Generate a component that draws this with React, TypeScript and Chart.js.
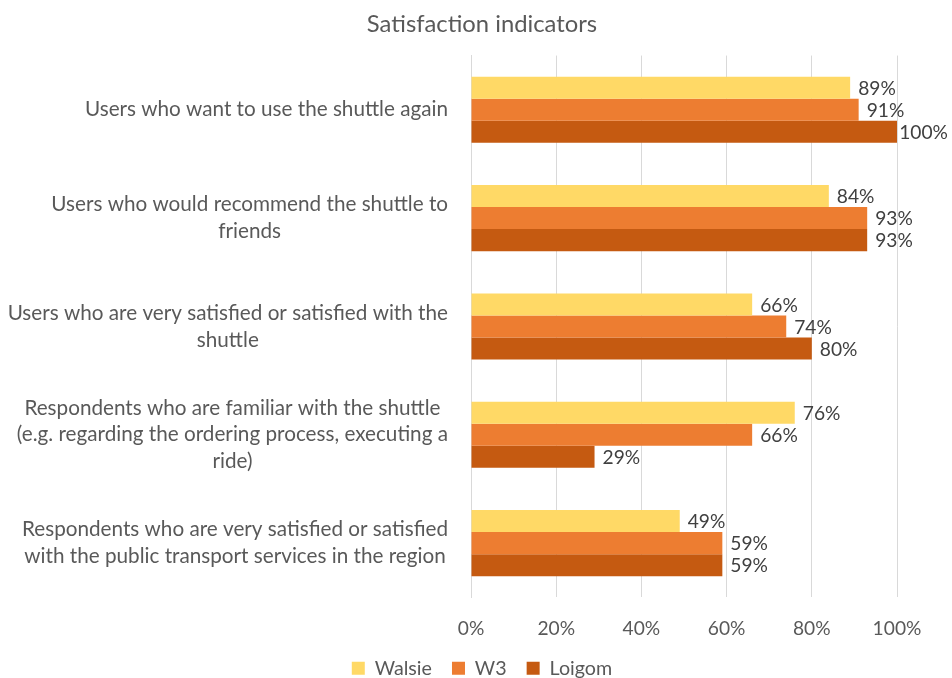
import React, { useEffect, useRef } from "react";
import { Chart, registerables } from "chart.js";

Chart.register(...registerables);

const categories: string[][] = [
  ["Users who want to use the shuttle again"],
  ["Users who would recommend the shuttle to", "friends"],
  ["Users who are very satisfied or satisfied with the", "shuttle"],
  ["Respondents who are familiar with the shuttle", "(e.g. regarding the ordering process, executing a", "ride)"],
  ["Respondents who are very satisfied or satisfied", "with the public transport services in the region"],
];
const walsie = [89, 84, 66, 76, 49];
const w3 = [91, 93, 74, 66, 59];
const loigom = [100, 93, 80, 29, 59];
const xTicks = [0, 20, 40, 60, 80, 100];

const FONT = "Lato";
const TEXT = "#595959";

// Center the lines of each category label on each other, block right-aligned (Excel style)
const labelBlocks = {
  id: "labelBlocks",
  beforeDraw(chart: any) {
    const s = chart.scales.y;
    const ctx = chart.ctx;
    const right = s.right - s.options.ticks.padding;
    s.getLabelItems().forEach((it: any) => {
      ctx.save();
      ctx.font = it.font.string;
      const lines = Array.isArray(it.label) ? it.label : [it.label];
      const w = Math.max(...lines.map((l: string) => ctx.measureText(l).width));
      ctx.restore();
      it.options.textAlign = "center";
      it.options.translation = [right - w / 2, it.options.translation[1]];
    });
  },
};

const dataLabels = {
  id: "dataLabels",
  afterDatasetsDraw(chart: any) {
    const ctx = chart.ctx;
    ctx.save();
    ctx.font = `19.2px ${FONT}`;
    ctx.fillStyle = "#404040";
    ctx.textAlign = "left";
    ctx.textBaseline = "middle";
    chart.data.datasets.forEach((ds: any, i: number) => {
      const meta = chart.getDatasetMeta(i);
      meta.data.forEach((bar: any, j: number) => {
        const t = ds.data[j] + "%";
        const w = ctx.measureText(t).width;
        const x = Math.min(bar.x + 8, chart.width - w - 4);
        ctx.fillText(t, x, bar.y + 1);
      });
    });
    ctx.restore();
  },
};

export default function App() {
  const ref = useRef<HTMLCanvasElement>(null);
  useEffect(() => {
    const chart = new Chart(ref.current!, {
      type: "bar",
      data: {
        labels: categories,
        datasets: [
          { label: "Walsie", data: walsie, backgroundColor: "#FFD966" },
          { label: "W3", data: w3, backgroundColor: "#ED7D31" },
          { label: "Loigom", data: loigom, backgroundColor: "#C55A11" },
        ],
      },
      options: {
        indexAxis: "y",
        animation: false,
        responsive: false,
        maintainAspectRatio: false,
        layout: { padding: { left: 67, right: 55, top: 8, bottom: -10 } },
        datasets: { bar: { categoryPercentage: 0.61, barPercentage: 1 } },
        scales: {
          x: {
            min: 0,
            max: 100,
            afterBuildTicks: (s: any) => {
              s.ticks = xTicks.map((v) => ({ value: v }));
            },
            afterFit: (s: any) => {
              s.height = 41;
            },
            ticks: {
              callback: (v: any) => v + "%",
              font: { family: FONT, size: 19.2 },
              color: TEXT,
              padding: 20,
            },
            grid: { color: "#D9D9D9", drawTicks: false },
            border: { display: false },
          },
          y: {
            afterFit: (s: any) => {
              s.width = 404;
              s._computeLabelArea = () => undefined;
            },
            ticks: {
              crossAlign: "near",
              font: { family: FONT, size: 20.7, lineHeight: 1.3 },
              color: TEXT,
              padding: 23,
            },
            grid: { display: false },
            border: { color: "#D9D9D9" },
          },
        },
        plugins: {
          title: {
            display: true,
            text: "Satisfaction indicators",
            font: { family: FONT, size: 23.8, weight: "normal", lineHeight: 1.2 },
            color: TEXT,
            padding: { top: 2, bottom: 17 },
          },
          legend: {
            position: "bottom",
            labels: {
              boxWidth: 13,
              boxHeight: 13,
              font: { family: FONT, size: 19.7 },
              color: TEXT,
              padding: 20,
            },
          },
          tooltip: { enabled: false },
        },
      },
      plugins: [labelBlocks, dataLabels],
    });
    return () => chart.destroy();
  }, []);
  return (
    <div style={{ position: "fixed", left: 0, top: 0, width: 952, height: 678, background: "#fff" }}>
      <canvas ref={ref} width={952} height={678} />
    </div>
  );
}
